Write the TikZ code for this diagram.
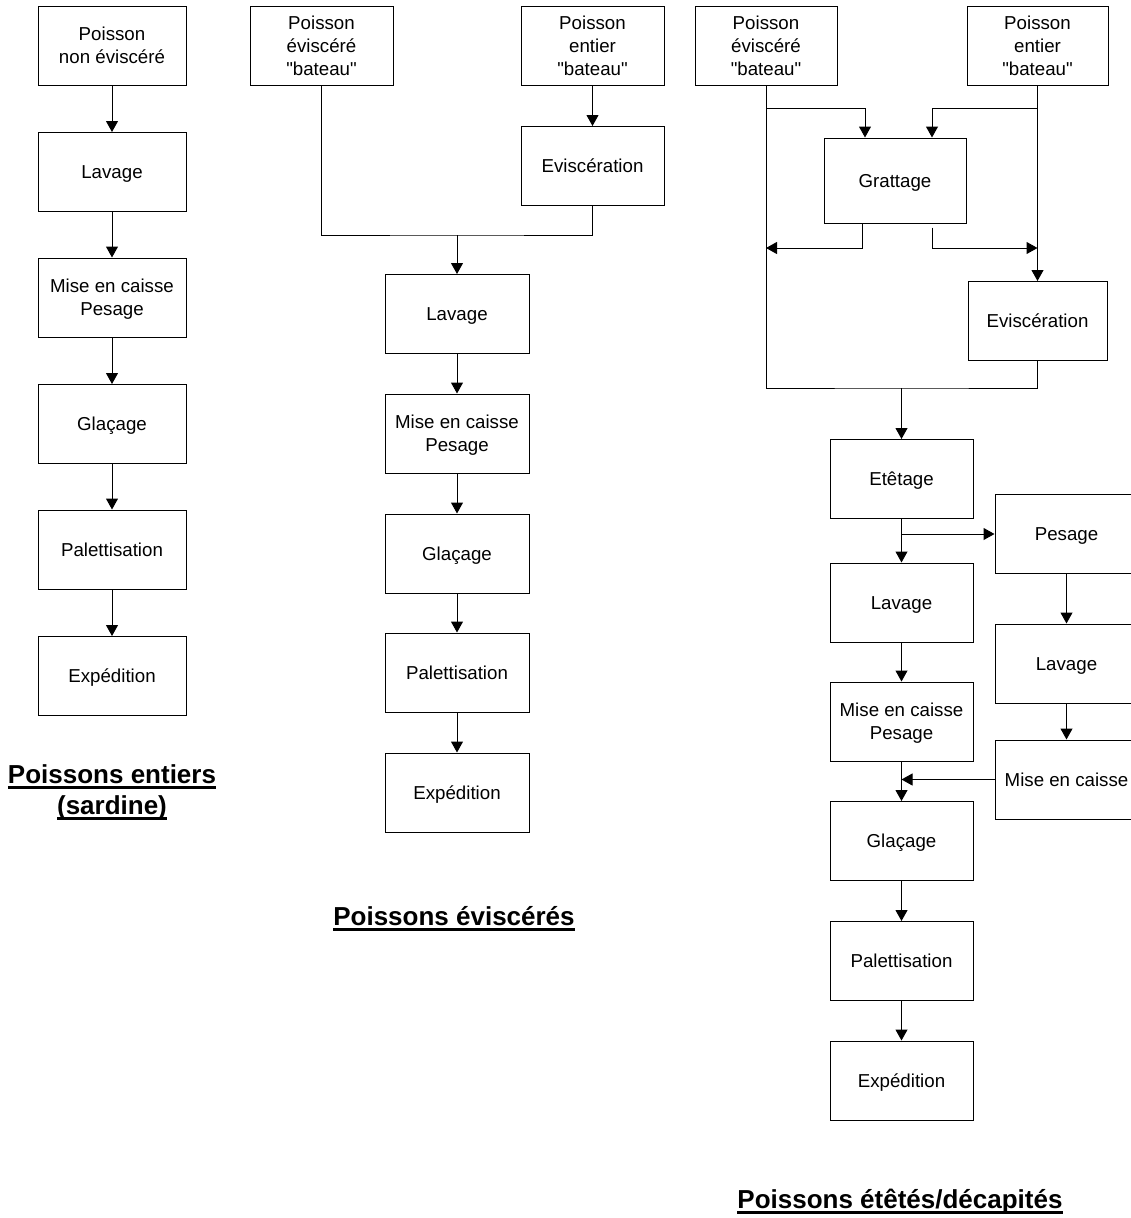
\documentclass[tikz,border=0pt]{standalone}
\usepackage{fontspec}
\setmainfont{Liberation Sans}
\usetikzlibrary{arrows.meta}

\newsavebox\titrebox
\newcommand*{\souligne}[1]{\sbox\titrebox{#1}\rlap{\rule[-5.5pt]{\wd\titrebox}{2.5pt}}\usebox\titrebox}

\begin{document}
\begin{tikzpicture}[x=1pt, y=-1pt, line width=1pt,
	box/.style={draw, minimum width=143pt, minimum height=79pt, inner sep=0pt,
		align=center, text height=13.4pt, text depth=0pt, font=\fontsize{18.7}{23}\selectfont},
	deux/.style={text height=36.4pt},
	trois/.style={text height=59.4pt},
	arr/.style={-{Triangle[length=11pt,width=12pt]}},
	titre/.style={inner sep=0pt, align=center, font=\fontsize{26}{31}\selectfont\bfseries}]
		\useasboundingbox (0,0) rectangle (1130,1218);
		
		% Poissons entiers (sardine)
		\node[box, deux, minimum width=148pt] (s1) at (112,45.5) {Poisson\\non éviscéré};
		\node[box, minimum width=148pt] (lav1) at (112,172) {Lavage};
		\node[box, deux, minimum width=148pt] (mise1) at (112,297.5) {Mise en caisse\\Pesage};
		\node[box, minimum width=148pt] (glac1) at (112,424) {Glaçage};
		\node[box, minimum width=148pt] (pal1) at (112,549.5) {Palettisation};
		\node[box, minimum width=148pt] (exp1) at (112,676) {Expédition};
		\foreach \a/\b in {s1/lav1, lav1/mise1, mise1/glac1, glac1/pal1, pal1/exp1}
		\draw[arr] (\a) -- (\b);
		\node[titre, anchor=north] (t1) at (112,764) {\souligne{Poissons entiers}\\\souligne{(sardine)}};
		
		% Poissons éviscérés
		\node[box, trois] (ev2) at (321.5,45.5) {Poisson\\éviscéré\\\textquotedbl bateau\textquotedbl};
		\node[box, trois] (ent2) at (592.5,45.5) {Poisson\\entier\\\textquotedbl bateau\textquotedbl};
		\node[box] (evi2) at (592.5,166) {Eviscération};
		\node[box, minimum width=144pt] (lav2) at (457,314) {Lavage};
		\node[box, deux, minimum width=144pt] (mise2) at (457,433.5) {Mise en caisse\\Pesage};
		\node[box, minimum width=144pt] (glac2) at (457,553.5) {Glaçage};
		\node[box, minimum width=144pt] (pal2) at (457,672.5) {Palettisation};
		\node[box, minimum width=144pt] (exp2) at (457,792.5) {Expédition};
		\coordinate (j2) at (457,235);
		\draw[arr] (ent2) -- (evi2);
		\draw (ev2.south) |- (j2) -| (evi2.south);
		\draw[arr] (j2) -- (lav2);
		\foreach \a/\b in {lav2/mise2, mise2/glac2, glac2/pal2, pal2/exp2}
		\draw[arr] (\a) -- (\b);
		\node[titre, anchor=base] (t2) at (454,925) {\souligne{Poissons éviscérés}};
		
		% Poissons étêtés/décapités
		\node[box, trois, minimum width=142pt] (ev3) at (766,45.5) {Poisson\\éviscéré\\\textquotedbl bateau\textquotedbl};
		\node[box, trois, minimum width=141pt] (ent3) at (1037.5,45.5) {Poisson\\entier\\\textquotedbl bateau\textquotedbl};
		\node[box, minimum width=142pt, minimum height=85pt] (grat3) at (895,180.5) {Grattage};
		\node[box, minimum width=139pt] (evi3) at (1037.5,321) {Eviscération};
		\node[box] (ete3) at (901.5,479) {Etêtage};
		\node[box] (lav3) at (901.5,602.5) {Lavage};
		\node[box, deux] (mise3) at (901.5,721.5) {Mise en caisse\\Pesage};
		\node[box] (glac3) at (901.5,841) {Glaçage};
		\node[box] (pal3) at (901.5,961) {Palettisation};
		\node[box] (exp3) at (901.5,1080.5) {Expédition};
		\node[box] (pes3) at (1066.5,534) {Pesage};
		\node[box] (lavb3) at (1066.5,663.5) {Lavage};
		\node[box] (miseb3) at (1066.5,779.5) {Mise en caisse};
		\coordinate (j3) at (901.5,388);
		
		% Grattage
		\draw[arr] (ev3.south |- 0,108) -| ([xshift=-30pt]grat3.north);
		\draw[arr] (ent3.south |- 0,108) -| ([xshift=37pt]grat3.north);
		\draw[arr] ([xshift=-33pt]grat3.south) |- (ev3.south |- 0,248);
		\draw[arr] ([xshift=37pt,yshift=-4pt]grat3.south) |- (ent3.south |- 0,248);
		
		% Eviscération and Etêtage
		\draw[arr] (ent3) -- (evi3);
		\draw (ev3.south) |- (j3) -| (evi3.south);
		\draw[arr] (j3) -- (ete3);
		\draw[arr] (ete3.south |- pes3.west) -- (pes3.west);
		\foreach \a/\b in {ete3/lav3, lav3/mise3, mise3/glac3, glac3/pal3, pal3/exp3, pes3/lavb3, lavb3/miseb3}
		\draw[arr] (\a) -- (\b);
		\draw[arr] (miseb3.west) -- (mise3.south |- miseb3.west);
		\node[titre, anchor=base] (t3) at (900,1208) {\souligne{Poissons étêtés/décapités}};
\end{tikzpicture}
\end{document}
